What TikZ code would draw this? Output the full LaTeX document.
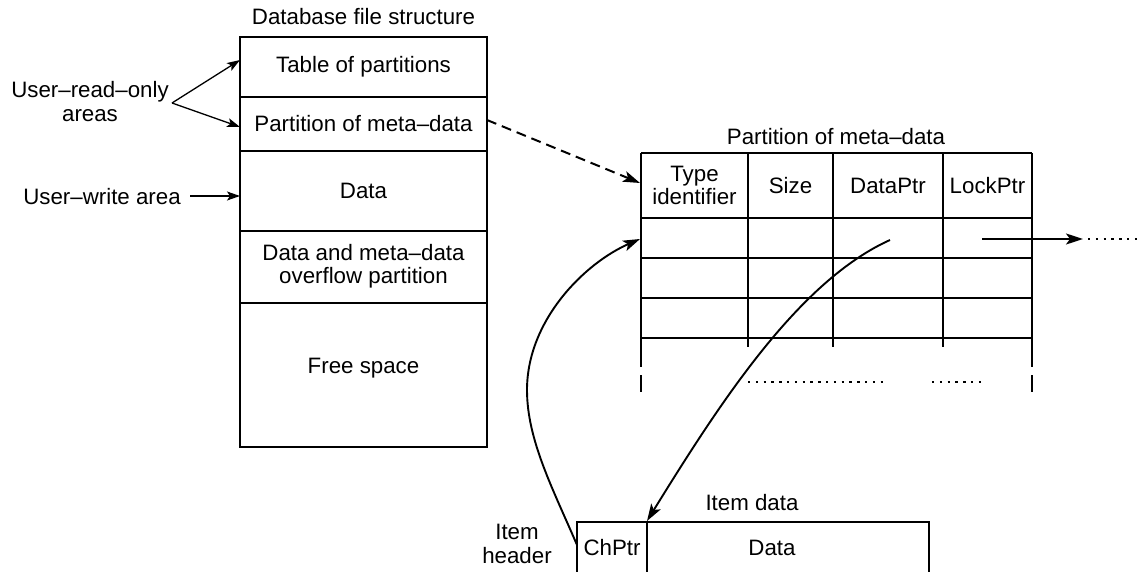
\documentclass[tikz,border=0pt]{standalone}
\usepackage{fontspec}
\setmainfont{Liberation Sans}
\usetikzlibrary{arrows.meta}
\tikzset{
  lbl/.style={font=\fontsize{22.3}{23.5}\selectfont, inner sep=0pt, align=center},
  frame/.style={line width=2.2pt},
  thinarrow/.style={line width=1.3pt, -{Stealth[length=13pt,width=9pt,inset=3pt]}},
  thickarrow/.style={line width=1.9pt, -{Stealth[length=17pt,width=11pt,inset=4pt]}},
  dashedarrow/.style={line width=2pt, dash pattern=on 10pt off 6pt, -{Stealth[length=17pt,width=11pt,inset=4pt]}},
  dots/.style={line width=2.5pt, dash pattern=on 2.4pt off 5.4pt},
}
\begin{document}
\begin{tikzpicture}[x=1pt,y=-1pt]
\useasboundingbox (0,0) rectangle (1138,572);
\clip (0,0) rectangle (1138,572);

% ---------- Database file structure ----------
\node[lbl] (dbtitle) at (363.5,17) {Database file structure};
\draw[frame] (240,37) rectangle (487,447);
\foreach \yy in {97,151,231,303} \draw[frame] (240,\yy) -- (487,\yy);
\node[lbl] (tp) at (363.5,67) {Table of partitions};
\node[lbl] (pm) at (363.5,124) {Partition of meta–data};
\node[lbl] (dt) at (363.5,191) {Data};
\node[lbl] (ov) at (363.5,266) {Data and meta–data\\overflow partition};
\node[lbl] (fs) at (363.5,368) {Free space};

% ---------- left annotations ----------
\node[lbl] (ro) at (90,101.5) {User–read–only\\areas};
\node[lbl] (uw) at (102,197) {User–write area};
\coordinate (rosrc) at (172,103);
\coordinate (tpin) at (240,60);
\coordinate (pmin) at (240,127);
\coordinate (uwsrc) at (190,196);
\coordinate (dtin) at (240,196);
\draw[thinarrow] (rosrc) -- (tpin);
\draw[thinarrow] (rosrc) -- (pmin);
\draw[thinarrow] (uwsrc) -- (dtin);

% ---------- Partition of meta-data table ----------
\node[lbl] (pmtitle) at (836,137) {Partition of meta–data};
\foreach \yy in {153,218,258,298,338} \draw[frame] (641,\yy) -- (1032,\yy);
\foreach \xx in {748,833,943} \draw[frame] (\xx,153) -- (\xx,347);
\foreach \xx in {641,1032} {
  \draw[frame] (\xx,153) -- (\xx,367);
  \draw[frame] (\xx,375) -- (\xx,392);
}
\node[lbl] (ti) at (694.5,185.5) {Type\\identifier};
\node[lbl] (sz) at (790.5,186) {Size};
\node[lbl] (dp) at (888,186) {DataPtr};
\node[lbl] (lp) at (987.5,186) {LockPtr};
\draw[dots] (748,382) -- (888,382);
\draw[dots] (932,382) -- (985,382);

% dashed link from the partition to the table
\coordinate (pmout) at (487,120);
\coordinate (tbltop) at (640,183);
\draw[dashedarrow] (pmout) -- (tbltop);

% LockPtr pointer
\coordinate (lpsrc) at (982,239);
\coordinate (lptip) at (1083,239);
\draw[thickarrow] (lpsrc) -- (lptip);
\draw[dots] (1088,239) -- (1140,239);

% ---------- Item data ----------
\node[lbl] (idtitle) at (752,503) {Item data};
\draw[frame] (577,585) -- (577,522) -- (929,522) -- (929,585);
\draw[frame] (647,522) -- (647,585);
\node[lbl] (ch) at (612,548) {ChPtr};
\node[lbl] (idd) at (772,548) {Data};
\node[lbl] (ih) at (517,544) {Item\\header};

% DataPtr -> item
\coordinate (dpsrc) at (890,240);
\coordinate (chtop) at (647,521);
\draw[thickarrow] (dpsrc) .. controls (799,281) and (721,401) .. (chtop);

% ChPtr -> table row
\coordinate (chleft) at (577,545);
\coordinate (tblrow) at (640,239);
\draw[thickarrow] (chleft) .. controls (553,489) and (527,440) .. (527,390)
   .. controls (527,320) and (585,263) .. (tblrow);
\end{tikzpicture}
\end{document}
